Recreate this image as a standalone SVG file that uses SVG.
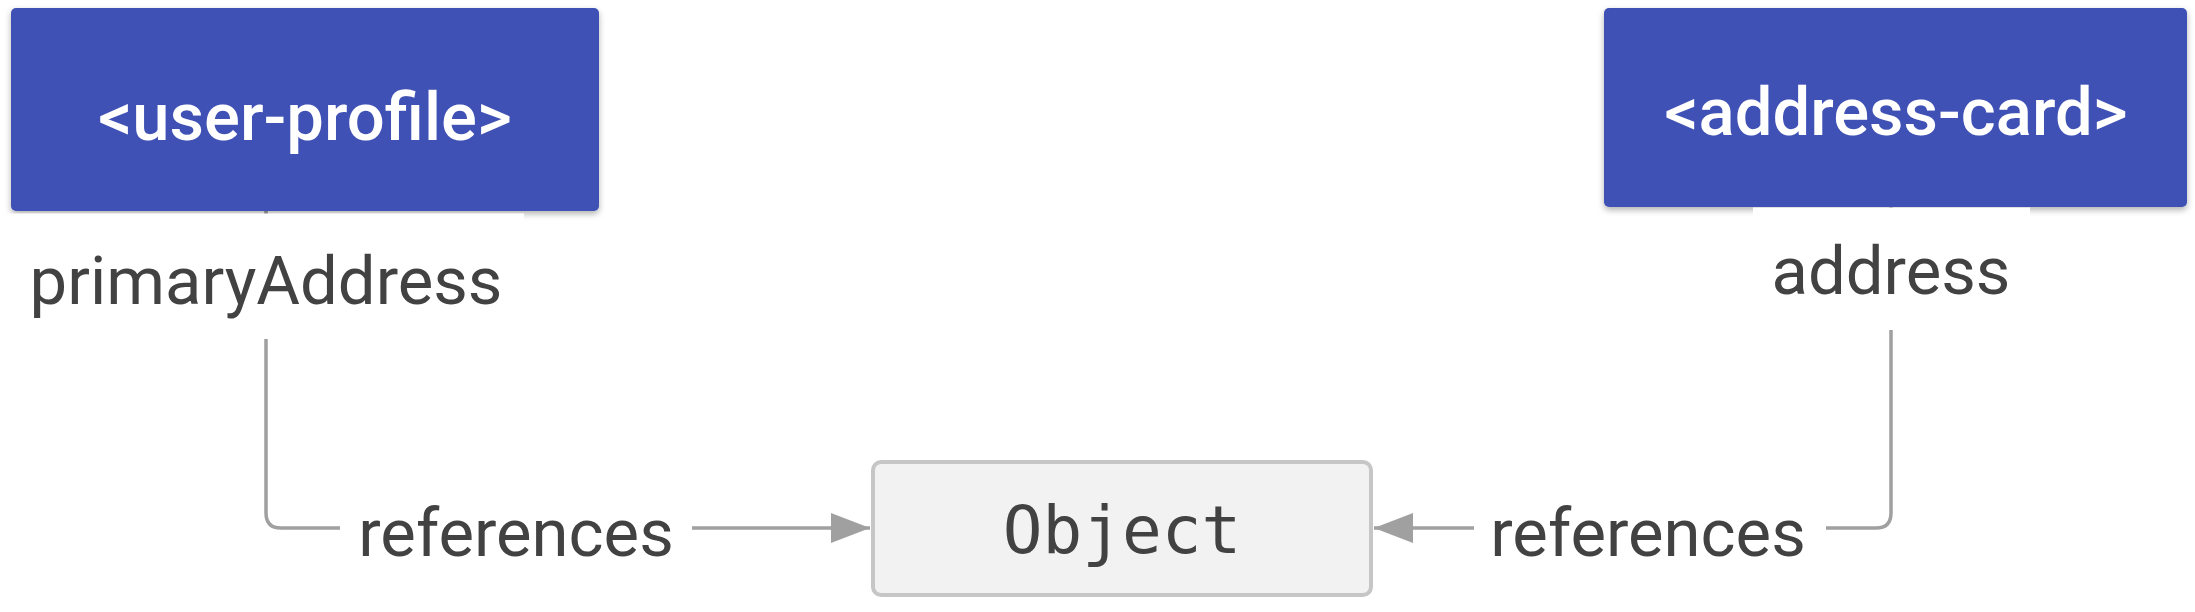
<svg xmlns="http://www.w3.org/2000/svg" width="2195" height="612" viewBox="0 0 2195 612">
<style>
.comp{fill:#3F51B5;filter:url(#sh)}
.title{font-family:Roboto,"Liberation Sans",sans-serif;font-size:67px;font-weight:500;fill:#FFFFFF;text-anchor:middle}
.lbl{font-family:Roboto,"Liberation Sans",sans-serif;font-size:67px;fill:#424242;text-anchor:middle}
.bg{fill:#FFFFFF}
.conn{fill:none;stroke:#A0A0A0;stroke-width:3.5}
.obj{fill:#F2F2F2;stroke:#C6C6C6;stroke-width:4}
.mono{font-family:"DejaVu Sans Mono","Liberation Mono",monospace;font-size:66px;fill:#424242;text-anchor:middle}
</style>
<defs>
<filter id="sh" x="-5%" y="-10%" width="110%" height="130%">
<feDropShadow dx="0" dy="3" stdDeviation="3" flood-color="#000000" flood-opacity="0.3"/>
</filter>
<marker id="arr" markerUnits="userSpaceOnUse" markerWidth="40" markerHeight="30" refX="39" refY="15" orient="auto">
<path d="M0,0 L39,15 L0,30 Z" fill="#A0A0A0"/>
</marker>
</defs>
<rect width="2195" height="612" fill="#FFFFFF"/>
<g id="connectors">
<path class="conn" d="M266,211 V513 Q266,528 281,528 H870" marker-end="url(#arr)"/>
<path class="conn" d="M1891,207 V513 Q1891,528 1876,528 H1374" marker-end="url(#arr)"/>
</g>
<g id="user-profile">
<rect class="comp" x="11" y="8" width="588" height="203" rx="5"/>
<text class="title" x="305" y="140">&lt;user-profile&gt;</text>
</g>
<g id="address-card">
<rect class="comp" x="1604" y="8" width="583" height="199" rx="5"/>
<text class="title" x="1896" y="135">&lt;address-card&gt;</text>
</g>
<g id="label-primaryAddress">
<rect class="bg" x="8" y="213.5" width="516" height="125.5"/>
<text class="lbl" x="266" y="304">primaryAddress</text>
</g>
<g id="label-address">
<rect class="bg" x="1753" y="207.5" width="277" height="122.5"/>
<text class="lbl" x="1891" y="294">address</text>
</g>
<g id="label-references-left">
<rect class="bg" x="340" y="490" width="352" height="80"/>
<text class="lbl" x="516" y="556">references</text>
</g>
<g id="label-references-right">
<rect class="bg" x="1474" y="490" width="352" height="80"/>
<text class="lbl" x="1648" y="556">references</text>
</g>
<g id="object">
<rect class="obj" x="873" y="462" width="498" height="133" rx="8"/>
<text class="mono" x="1122" y="553">Object</text>
</g>
</svg>
